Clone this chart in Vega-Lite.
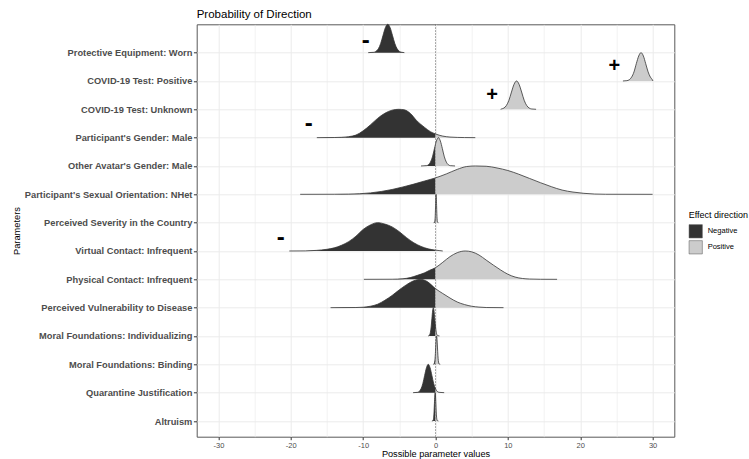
{
"$schema": "https://vega.github.io/schema/vega-lite/v6.json",
"width": 477.6, "height": 412.4,
"autosize": {"type": "none"},
"padding": {"left": 196.7, "top": 24.3, "right": 74.7, "bottom": 22.3},
"background": "white",
"config": {"font": "Liberation Sans", "view": {"stroke": "#595959", "strokeWidth": 1}},
"title": {"text": "Probability of Direction", "anchor": "start", "frame": "group", "fontSize": 11.5, "fontWeight": "normal", "color": "#000000", "offset": 2},
"datasets": {
"ridges": [
{"r":14,"x":-9.3,"h":0,"d":"Negative"},{"r":14,"x":-8.55,"h":0.011,"d":"Negative"},{"r":14,"x":-8.23,"h":0.044,"d":"Negative"},{"r":14,"x":-7.9,"h":0.135,"d":"Negative"},{"r":14,"x":-7.58,"h":0.32,"d":"Negative"},{"r":14,"x":-7.25,"h":0.61,"d":"Negative"},{"r":14,"x":-6.93,"h":0.88,"d":"Negative"},{"r":14,"x":-6.6,"h":1,"d":"Negative"},{"r":14,"x":-6.27,"h":0.88,"d":"Negative"},{"r":14,"x":-5.95,"h":0.61,"d":"Negative"},{"r":14,"x":-5.62,"h":0.32,"d":"Negative"},{"r":14,"x":-5.3,"h":0.135,"d":"Negative"},{"r":14,"x":-4.98,"h":0.044,"d":"Negative"},{"r":14,"x":-4.65,"h":0.011,"d":"Negative"},{"r":14,"x":-4.3,"h":0,"d":"Negative"},
{"r":13,"x":25.9,"h":0,"d":"Positive"},{"r":13,"x":26.45,"h":0.011,"d":"Positive"},{"r":13,"x":26.78,"h":0.044,"d":"Positive"},{"r":13,"x":27.1,"h":0.135,"d":"Positive"},{"r":13,"x":27.43,"h":0.32,"d":"Positive"},{"r":13,"x":27.75,"h":0.61,"d":"Positive"},{"r":13,"x":28.08,"h":0.88,"d":"Positive"},{"r":13,"x":28.4,"h":1,"d":"Positive"},{"r":13,"x":28.73,"h":0.88,"d":"Positive"},{"r":13,"x":29.05,"h":0.61,"d":"Positive"},{"r":13,"x":29.38,"h":0.32,"d":"Positive"},{"r":13,"x":29.7,"h":0.135,"d":"Positive"},{"r":13,"x":29.95,"h":0.05,"d":"Positive"},{"r":13,"x":30.05,"h":0,"d":"Positive"},
{"r":12,"x":9.0,"h":0,"d":"Positive"},{"r":12,"x":9.1,"h":0.011,"d":"Positive"},{"r":12,"x":9.45,"h":0.044,"d":"Positive"},{"r":12,"x":9.8,"h":0.135,"d":"Positive"},{"r":12,"x":10.15,"h":0.32,"d":"Positive"},{"r":12,"x":10.5,"h":0.61,"d":"Positive"},{"r":12,"x":10.85,"h":0.88,"d":"Positive"},{"r":12,"x":11.2,"h":1,"d":"Positive"},{"r":12,"x":11.55,"h":0.88,"d":"Positive"},{"r":12,"x":11.9,"h":0.61,"d":"Positive"},{"r":12,"x":12.25,"h":0.32,"d":"Positive"},{"r":12,"x":12.6,"h":0.135,"d":"Positive"},{"r":12,"x":12.95,"h":0.044,"d":"Positive"},{"r":12,"x":13.3,"h":0.011,"d":"Positive"},{"r":12,"x":13.9,"h":0,"d":"Positive"},
{"r":11,"x":-16.4,"h":0,"d":"Negative"},{"r":11,"x":-14,"h":0.004,"d":"Negative"},{"r":11,"x":-13,"h":0.012,"d":"Negative"},{"r":11,"x":-12,"h":0.035,"d":"Negative"},{"r":11,"x":-11,"h":0.09,"d":"Negative"},{"r":11,"x":-10,"h":0.24,"d":"Negative"},{"r":11,"x":-9,"h":0.45,"d":"Negative"},{"r":11,"x":-8,"h":0.68,"d":"Negative"},{"r":11,"x":-7,"h":0.86,"d":"Negative"},{"r":11,"x":-6,"h":0.97,"d":"Negative"},{"r":11,"x":-5.1,"h":1,"d":"Negative"},{"r":11,"x":-4.3,"h":0.98,"d":"Negative"},{"r":11,"x":-3.5,"h":0.86,"d":"Negative"},{"r":11,"x":-2.6,"h":0.6,"d":"Negative"},{"r":11,"x":-1.5,"h":0.36,"d":"Negative"},{"r":11,"x":-0.7,"h":0.21,"d":"Negative"},{"r":11,"x":0,"h":0.13,"d":"Negative"},
{"r":11,"x":0,"h":0.13,"d":"Positive"},{"r":11,"x":1,"h":0.055,"d":"Positive"},{"r":11,"x":2,"h":0.02,"d":"Positive"},{"r":11,"x":3,"h":0.008,"d":"Positive"},{"r":11,"x":4,"h":0.003,"d":"Positive"},{"r":11,"x":5.5,"h":0,"d":"Positive"},
{"r":10,"x":-2.0,"h":0,"d":"Negative"},{"r":10,"x":-1.25,"h":0.011,"d":"Negative"},{"r":10,"x":-0.975,"h":0.044,"d":"Negative"},{"r":10,"x":-0.7,"h":0.135,"d":"Negative"},{"r":10,"x":-0.425,"h":0.32,"d":"Negative"},{"r":10,"x":-0.15,"h":0.61,"d":"Negative"},{"r":10,"x":0,"h":0.77,"d":"Negative"},
{"r":10,"x":0,"h":0.77,"d":"Positive"},{"r":10,"x":0.125,"h":0.88,"d":"Positive"},{"r":10,"x":0.4,"h":1,"d":"Positive"},{"r":10,"x":0.675,"h":0.88,"d":"Positive"},{"r":10,"x":0.95,"h":0.61,"d":"Positive"},{"r":10,"x":1.225,"h":0.32,"d":"Positive"},{"r":10,"x":1.5,"h":0.135,"d":"Positive"},{"r":10,"x":1.775,"h":0.044,"d":"Positive"},{"r":10,"x":2.05,"h":0.011,"d":"Positive"},{"r":10,"x":2.7,"h":0,"d":"Positive"},
{"r":9,"x":-18.7,"h":0,"d":"Negative"},{"r":9,"x":-14,"h":0.002,"d":"Negative"},{"r":9,"x":-12,"h":0.008,"d":"Negative"},{"r":9,"x":-10.5,"h":0.02,"d":"Negative"},{"r":9,"x":-9,"h":0.05,"d":"Negative"},{"r":9,"x":-7.5,"h":0.1,"d":"Negative"},{"r":9,"x":-6,"h":0.17,"d":"Negative"},{"r":9,"x":-4.5,"h":0.26,"d":"Negative"},{"r":9,"x":-3,"h":0.36,"d":"Negative"},{"r":9,"x":-1.5,"h":0.47,"d":"Negative"},{"r":9,"x":0,"h":0.58,"d":"Negative"},
{"r":9,"x":0,"h":0.58,"d":"Positive"},{"r":9,"x":1.5,"h":0.72,"d":"Positive"},{"r":9,"x":3,"h":0.88,"d":"Positive"},{"r":9,"x":4.3,"h":0.98,"d":"Positive"},{"r":9,"x":5.5,"h":1,"d":"Positive"},{"r":9,"x":7,"h":0.99,"d":"Positive"},{"r":9,"x":8.5,"h":0.93,"d":"Positive"},{"r":9,"x":10,"h":0.84,"d":"Positive"},{"r":9,"x":11.5,"h":0.71,"d":"Positive"},{"r":9,"x":13,"h":0.56,"d":"Positive"},{"r":9,"x":14.5,"h":0.41,"d":"Positive"},{"r":9,"x":16,"h":0.27,"d":"Positive"},{"r":9,"x":17.5,"h":0.15,"d":"Positive"},{"r":9,"x":19,"h":0.08,"d":"Positive"},{"r":9,"x":20.5,"h":0.035,"d":"Positive"},{"r":9,"x":22,"h":0.01,"d":"Positive"},{"r":9,"x":23.5,"h":0.002,"d":"Positive"},{"r":9,"x":30,"h":0,"d":"Positive"},
{"r":8,"x":-0.25,"h":0,"d":"Negative"},{"r":8,"x":-0.13,"h":0.011,"d":"Negative"},{"r":8,"x":-0.095,"h":0.044,"d":"Negative"},{"r":8,"x":-0.06,"h":0.135,"d":"Negative"},{"r":8,"x":-0.025,"h":0.32,"d":"Negative"},{"r":8,"x":0,"h":0.52,"d":"Negative"},
{"r":8,"x":0,"h":0.52,"d":"Positive"},{"r":8,"x":0.01,"h":0.61,"d":"Positive"},{"r":8,"x":0.045,"h":0.88,"d":"Positive"},{"r":8,"x":0.08,"h":1,"d":"Positive"},{"r":8,"x":0.115,"h":0.88,"d":"Positive"},{"r":8,"x":0.15,"h":0.61,"d":"Positive"},{"r":8,"x":0.185,"h":0.32,"d":"Positive"},{"r":8,"x":0.22,"h":0.135,"d":"Positive"},{"r":8,"x":0.255,"h":0.044,"d":"Positive"},{"r":8,"x":0.29,"h":0.011,"d":"Positive"},{"r":8,"x":0.4,"h":0,"d":"Positive"},
{"r":7,"x":-20.2,"h":0,"d":"Negative"},{"r":7,"x":-18,"h":0.003,"d":"Negative"},{"r":7,"x":-16.5,"h":0.02,"d":"Negative"},{"r":7,"x":-15,"h":0.06,"d":"Negative"},{"r":7,"x":-14,"h":0.11,"d":"Negative"},{"r":7,"x":-13,"h":0.2,"d":"Negative"},{"r":7,"x":-12,"h":0.33,"d":"Negative"},{"r":7,"x":-11,"h":0.52,"d":"Negative"},{"r":7,"x":-10,"h":0.76,"d":"Negative"},{"r":7,"x":-9,"h":0.92,"d":"Negative"},{"r":7,"x":-8,"h":1,"d":"Negative"},{"r":7,"x":-7,"h":0.95,"d":"Negative"},{"r":7,"x":-6,"h":0.85,"d":"Negative"},{"r":7,"x":-5,"h":0.68,"d":"Negative"},{"r":7,"x":-4,"h":0.47,"d":"Negative"},{"r":7,"x":-3,"h":0.29,"d":"Negative"},{"r":7,"x":-2,"h":0.16,"d":"Negative"},{"r":7,"x":-1,"h":0.075,"d":"Negative"},{"r":7,"x":0,"h":0.03,"d":"Negative"},
{"r":7,"x":0,"h":0.03,"d":"Positive"},{"r":7,"x":0.5,"h":0.015,"d":"Positive"},{"r":7,"x":1,"h":0,"d":"Positive"},
{"r":6,"x":-9.9,"h":0,"d":"Negative"},{"r":6,"x":-6,"h":0.003,"d":"Negative"},{"r":6,"x":-4.5,"h":0.02,"d":"Negative"},{"r":6,"x":-3.5,"h":0.06,"d":"Negative"},{"r":6,"x":-2.5,"h":0.14,"d":"Negative"},{"r":6,"x":-1.5,"h":0.23,"d":"Negative"},{"r":6,"x":-0.8,"h":0.32,"d":"Negative"},{"r":6,"x":0,"h":0.41,"d":"Negative"},
{"r":6,"x":0,"h":0.41,"d":"Positive"},{"r":6,"x":1,"h":0.6,"d":"Positive"},{"r":6,"x":2,"h":0.8,"d":"Positive"},{"r":6,"x":3,"h":0.94,"d":"Positive"},{"r":6,"x":4.1,"h":1,"d":"Positive"},{"r":6,"x":5,"h":0.97,"d":"Positive"},{"r":6,"x":6,"h":0.86,"d":"Positive"},{"r":6,"x":7,"h":0.68,"d":"Positive"},{"r":6,"x":8,"h":0.5,"d":"Positive"},{"r":6,"x":9,"h":0.33,"d":"Positive"},{"r":6,"x":10,"h":0.18,"d":"Positive"},{"r":6,"x":11,"h":0.08,"d":"Positive"},{"r":6,"x":12,"h":0.03,"d":"Positive"},{"r":6,"x":13,"h":0.01,"d":"Positive"},{"r":6,"x":14.5,"h":0.002,"d":"Positive"},{"r":6,"x":16.8,"h":0,"d":"Positive"},
{"r":5,"x":-14.5,"h":0,"d":"Negative"},{"r":5,"x":-11,"h":0.005,"d":"Negative"},{"r":5,"x":-10,"h":0.015,"d":"Negative"},{"r":5,"x":-9,"h":0.05,"d":"Negative"},{"r":5,"x":-8,"h":0.12,"d":"Negative"},{"r":5,"x":-7,"h":0.26,"d":"Negative"},{"r":5,"x":-6,"h":0.43,"d":"Negative"},{"r":5,"x":-5,"h":0.63,"d":"Negative"},{"r":5,"x":-4,"h":0.81,"d":"Negative"},{"r":5,"x":-3,"h":0.95,"d":"Negative"},{"r":5,"x":-2.1,"h":1,"d":"Negative"},{"r":5,"x":-1.2,"h":0.93,"d":"Negative"},{"r":5,"x":0,"h":0.67,"d":"Negative"},
{"r":5,"x":0,"h":0.67,"d":"Positive"},{"r":5,"x":1,"h":0.5,"d":"Positive"},{"r":5,"x":2,"h":0.34,"d":"Positive"},{"r":5,"x":3,"h":0.2,"d":"Positive"},{"r":5,"x":4,"h":0.11,"d":"Positive"},{"r":5,"x":5,"h":0.05,"d":"Positive"},{"r":5,"x":6,"h":0.02,"d":"Positive"},{"r":5,"x":7,"h":0.005,"d":"Positive"},{"r":5,"x":9.4,"h":0,"d":"Positive"},
{"r":4,"x":-1.0,"h":0,"d":"Negative"},{"r":4,"x":-0.9,"h":0.011,"d":"Negative"},{"r":4,"x":-0.8,"h":0.044,"d":"Negative"},{"r":4,"x":-0.7,"h":0.135,"d":"Negative"},{"r":4,"x":-0.6,"h":0.32,"d":"Negative"},{"r":4,"x":-0.5,"h":0.61,"d":"Negative"},{"r":4,"x":-0.4,"h":0.88,"d":"Negative"},{"r":4,"x":-0.3,"h":1,"d":"Negative"},{"r":4,"x":-0.2,"h":0.88,"d":"Negative"},{"r":4,"x":-0.1,"h":0.61,"d":"Negative"},{"r":4,"x":0,"h":0.32,"d":"Negative"},
{"r":4,"x":0,"h":0.32,"d":"Positive"},{"r":4,"x":0.1,"h":0.135,"d":"Positive"},{"r":4,"x":0.2,"h":0.044,"d":"Positive"},{"r":4,"x":0.3,"h":0.011,"d":"Positive"},{"r":4,"x":0.55,"h":0,"d":"Positive"},
{"r":3,"x":-0.3,"h":0,"d":"Negative"},{"r":3,"x":-0.21,"h":0.011,"d":"Negative"},{"r":3,"x":-0.15,"h":0.044,"d":"Negative"},{"r":3,"x":-0.09,"h":0.135,"d":"Negative"},{"r":3,"x":-0.03,"h":0.32,"d":"Negative"},{"r":3,"x":0,"h":0.46,"d":"Negative"},
{"r":3,"x":0,"h":0.46,"d":"Positive"},{"r":3,"x":0.03,"h":0.61,"d":"Positive"},{"r":3,"x":0.09,"h":0.88,"d":"Positive"},{"r":3,"x":0.15,"h":1,"d":"Positive"},{"r":3,"x":0.21,"h":0.88,"d":"Positive"},{"r":3,"x":0.27,"h":0.61,"d":"Positive"},{"r":3,"x":0.33,"h":0.32,"d":"Positive"},{"r":3,"x":0.39,"h":0.135,"d":"Positive"},{"r":3,"x":0.45,"h":0.044,"d":"Positive"},{"r":3,"x":0.51,"h":0.011,"d":"Positive"},{"r":3,"x":0.65,"h":0,"d":"Positive"},
{"r":2,"x":-3.1,"h":0,"d":"Negative"},{"r":2,"x":-2.5,"h":0.011,"d":"Negative"},{"r":2,"x":-2.25,"h":0.044,"d":"Negative"},{"r":2,"x":-2.0,"h":0.135,"d":"Negative"},{"r":2,"x":-1.75,"h":0.32,"d":"Negative"},{"r":2,"x":-1.5,"h":0.61,"d":"Negative"},{"r":2,"x":-1.25,"h":0.88,"d":"Negative"},{"r":2,"x":-1.0,"h":1,"d":"Negative"},{"r":2,"x":-0.75,"h":0.88,"d":"Negative"},{"r":2,"x":-0.5,"h":0.61,"d":"Negative"},{"r":2,"x":-0.25,"h":0.32,"d":"Negative"},{"r":2,"x":0,"h":0.135,"d":"Negative"},
{"r":2,"x":0,"h":0.135,"d":"Positive"},{"r":2,"x":0.25,"h":0.044,"d":"Positive"},{"r":2,"x":0.5,"h":0.011,"d":"Positive"},{"r":2,"x":1.2,"h":0,"d":"Positive"},
{"r":1,"x":-0.5,"h":0,"d":"Negative"},{"r":1,"x":-0.35,"h":0.011,"d":"Negative"},{"r":1,"x":-0.3,"h":0.044,"d":"Negative"},{"r":1,"x":-0.25,"h":0.135,"d":"Negative"},{"r":1,"x":-0.2,"h":0.32,"d":"Negative"},{"r":1,"x":-0.15,"h":0.61,"d":"Negative"},{"r":1,"x":-0.1,"h":0.88,"d":"Negative"},{"r":1,"x":-0.05,"h":1,"d":"Negative"},{"r":1,"x":0,"h":0.88,"d":"Negative"},
{"r":1,"x":0,"h":0.88,"d":"Positive"},{"r":1,"x":0.05,"h":0.61,"d":"Positive"},{"r":1,"x":0.1,"h":0.32,"d":"Positive"},{"r":1,"x":0.15,"h":0.135,"d":"Positive"},{"r":1,"x":0.2,"h":0.044,"d":"Positive"},{"r":1,"x":0.25,"h":0.011,"d":"Positive"},{"r":1,"x":0.4,"h":0,"d":"Positive"}
],
"signs": [
{"s":"-","x":-9.64,"y":14.4},
{"s":"+","x":24.7,"y":13.53},
{"s":"+","x":7.83,"y":12.52},
{"s":"-","x":-17.5,"y":11.49},
{"s":"-","x":-21.4,"y":7.47}
]
},
"layer": [
{
"data": {"values": [{}]},
"mark": {"type": "rule", "color": "#666666", "strokeWidth": 0.7, "strokeDash": [1.5, 1.5]},
"encoding": {"x": {"datum": 0}}
},
{
"data": {"name": "ridges"},
"transform": [{"calculate": "datum.r + datum.h", "as": "top"}],
"mark": {"type": "area", "interpolate": "monotone"},
"encoding": {
"x": {"field": "x", "type": "quantitative", "title": "Possible parameter values",
"scale": {"domain": [-33, 33], "nice": false, "zero": false},
"axis": {"values": [-30,-25,-20,-15,-10,-5,0,5,10,15,20,25,30], "tickCount": 30,
"labelExpr": "datum.value % 10 === 0 ? '' + datum.value : ''",
"labelOverlap": false, "labelBound": false,
"grid": true, "gridColor": "#ebebeb",
"gridWidth": {"condition": {"test": "datum.value % 10 === 0", "value": 1}, "value": 0.6},
"tickColor": "#333333", "tickSize": 3,
"tickOpacity": {"condition": {"test": "datum.value % 10 === 0", "value": 1}, "value": 0},
"domain": false, "labelFontSize": 7.5, "labelColor": "#4d4d4d", "labelPadding": 2,
"titleFontSize": 9.2, "titleFontWeight": "normal", "titleColor": "#000000", "titleY": 20.3, "titleBaseline": "alphabetic"}},
"y": {"field": "top", "type": "quantitative", "title": "Parameters", "stack": null,
"scale": {"domain": [0.446, 15.0], "nice": false, "zero": false},
"axis": {"values": [1,2,3,4,5,6,7,8,9,10,11,12,13,14], "tickCount": 30,
"labelExpr": "[\"Altruism\", \"Quarantine Justification\", \"Moral Foundations: Binding\", \"Moral Foundations: Individualizing\", \"Perceived Vulnerability to Disease\", \"Physical Contact: Infrequent\", \"Virtual Contact: Infrequent\", \"Perceived Severity in the Country\", \"Participant's Sexual Orientation: NHet\", \"Other Avatar's Gender: Male\", \"Participant's Gender: Male\", \"COVID-19 Test: Unknown\", \"COVID-19 Test: Positive\", \"Protective Equipment: Worn\"][datum.value - 1]",
"labelOverlap": false, "labelBound": false,
"grid": true, "gridColor": "#ebebeb", "gridWidth": 1,
"tickColor": "#333333", "tickSize": 3.3, "domain": false,
"labelFontSize": 9.3, "labelFontWeight": "bold", "labelColor": "#4d4d4d", "labelPadding": 1.5,
"titleFontSize": 9.3, "titleFontWeight": "normal", "titleColor": "#000000", "titleX": -180, "titleY": 206.2, "titleBaseline": "middle"}},
"y2": {"field": "r"},
"detail": {"field": "r"},
"color": {"field": "d", "type": "nominal",
"scale": {"domain": ["Negative", "Positive"], "range": ["#333333", "#cccccc"]},
"legend": {"title": "Effect direction", "orient": "none", "legendX": 492, "legendY": 187,
"titleFontSize": 9, "titleFontWeight": "normal", "titleColor": "#000000", "titlePadding": 4,
"labelFontSize": 7.5, "labelColor": "#000000", "labelOffset": 5,
"symbolType": "square", "symbolSize": 177, "symbolStrokeColor": "#555555", "symbolStrokeWidth": 0.5,
"rowPadding": 0, "padding": 0}}
}
},
{
"data": {"name": "ridges"},
"transform": [{"filter": "!(datum.x === 0 && datum.d === 'Positive')"}, {"calculate": "datum.r + datum.h", "as": "top"}],
"mark": {"type": "line", "interpolate": "monotone", "color": "#333333", "strokeWidth": 0.8},
"encoding": {
"x": {"field": "x", "type": "quantitative", "title": "Possible parameter values"},
"y": {"field": "top", "type": "quantitative", "title": "Parameters"},
"detail": {"field": "r"}
}
},
{
"data": {"name": "signs"},
"transform": [{"filter": "datum.s === '-'"}],
"mark": {"type": "text", "fontWeight": "bold", "fontSize": 24, "align": "center", "baseline": "middle", "color": "#000000"},
"encoding": {
"x": {"field": "x", "type": "quantitative", "title": "Possible parameter values"},
"y": {"field": "y", "type": "quantitative", "title": "Parameters"},
"text": {"field": "s"}
}
},
{
"data": {"name": "signs"},
"transform": [{"filter": "datum.s === '+'"}],
"mark": {"type": "text", "fontWeight": "bold", "fontSize": 20, "align": "center", "baseline": "middle", "color": "#000000"},
"encoding": {
"x": {"field": "x", "type": "quantitative", "title": "Possible parameter values"},
"y": {"field": "y", "type": "quantitative", "title": "Parameters"},
"text": {"field": "s"}
}
}
]
}
